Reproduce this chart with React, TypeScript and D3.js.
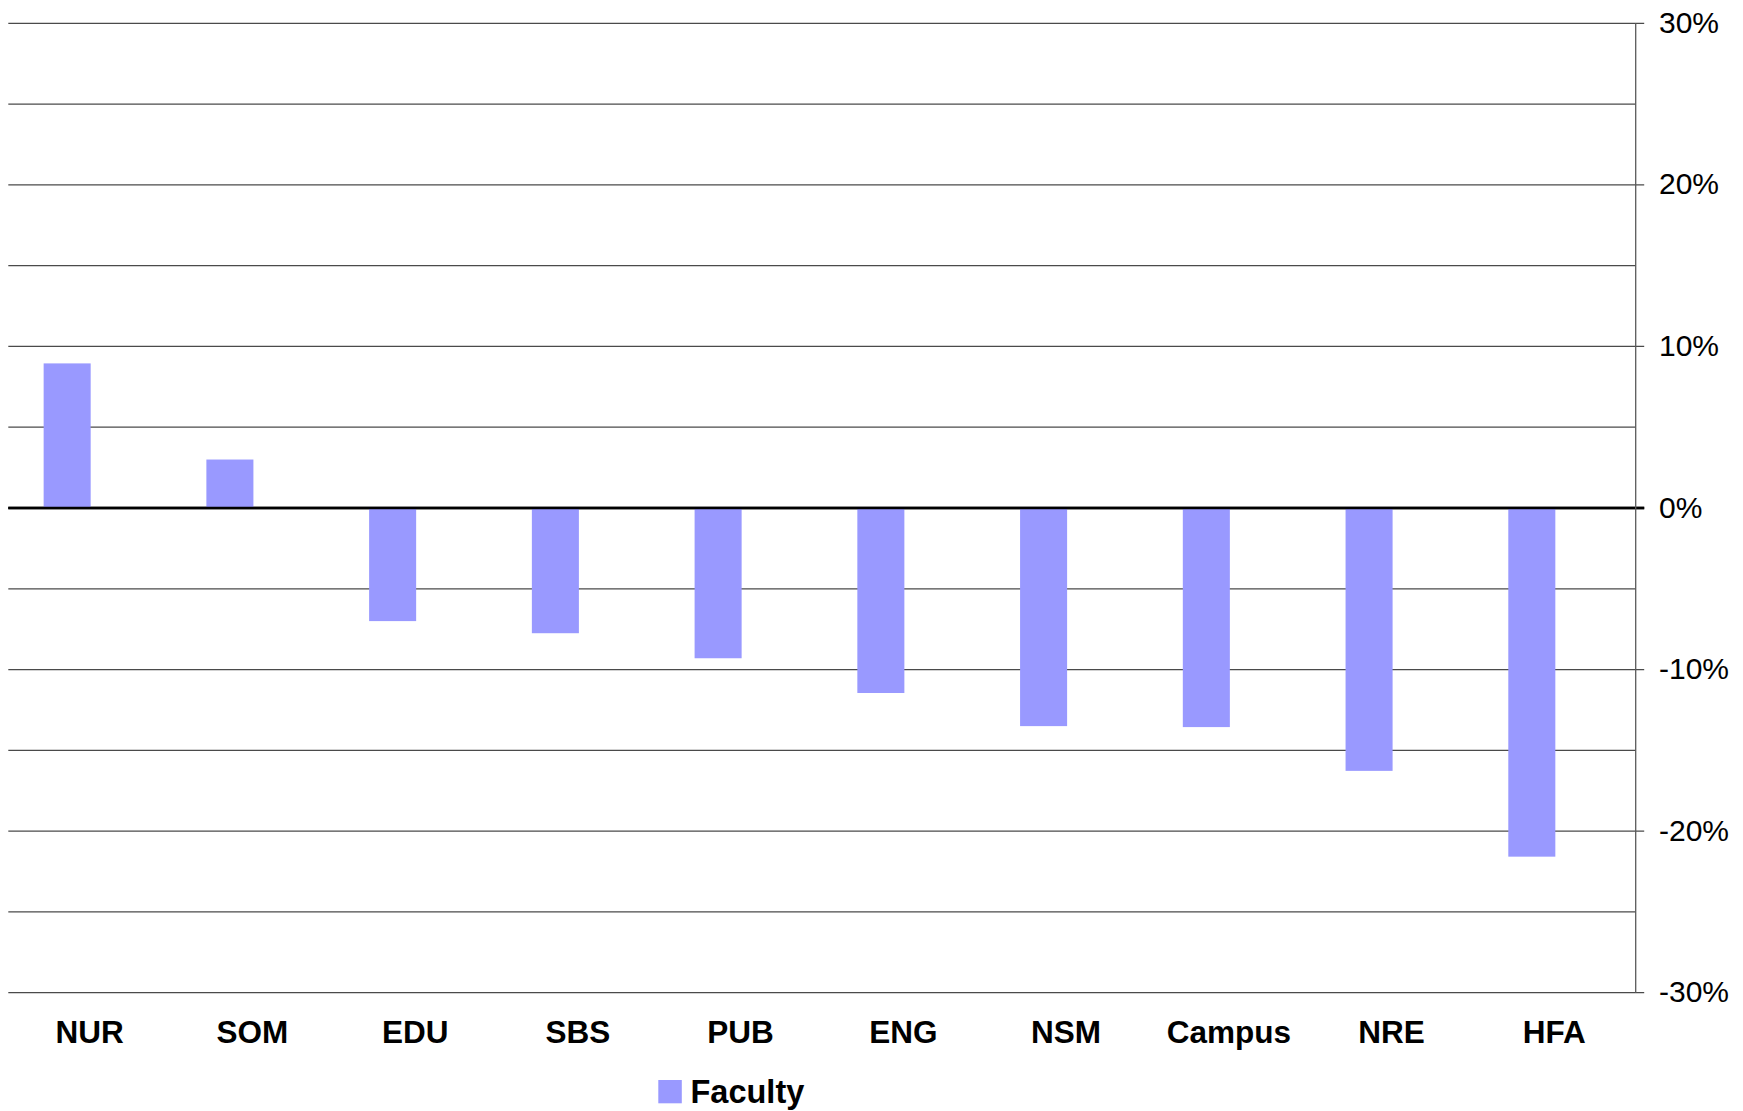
import React from "react";
import * as d3 from "d3";

const categories = ["NUR", "SOM", "EDU", "SBS", "PUB", "ENG", "NSM", "Campus", "NRE", "HFA"];
const facultyValues = [8.95, 3.0, -7.0, -7.75, -9.3, -11.45, -13.5, -13.56, -16.27, -21.58];
const gridTicks = [-30, -25, -20, -15, -10, -5, 0, 5, 10, 15, 20, 25, 30];
const labelTicks = [-30, -20, -10, 0, 10, 20, 30];
const seriesName = "Faculty";

const W = 1743;
const H = 1111;
const left = 8.3;
const right = 1635.7;
const top = 23.3;
const bottom = 992.7;
const barColor = "#9999FF";

export default function App() {
  const x = d3.scaleBand<string>().domain(categories).range([left, right]).padding(0);
  const y = d3.scaleLinear().domain([-30, 30]).range([bottom, top]);
  const bw = x.bandwidth();
  const barW = bw * 0.289;
  const font = "Liberation Sans, Arial, sans-serif";

  return (
    <div style={{ position: "absolute", left: 0, top: 0 }}>
      <svg width={W} height={H} style={{ display: "block", background: "#fff" }}>
        {gridTicks.map((t) => (
          <line
            key={"g" + t}
            x1={left}
            x2={labelTicks.includes(t) ? right + 8.5 : right}
            y1={y(t)}
            y2={y(t)}
            stroke={t === 0 ? "#000" : "#4a4a4a"}
            strokeWidth={t === 0 ? 2.6 : 1.2}
          />
        ))}
        {categories.map((c, i) => {
          const v = facultyValues[i];
          const cx = (x(c) as number) + bw / 2 + 1;
          return (
            <rect
              key={c}
              x={cx - barW}
              y={y(Math.max(0, v))}
              width={barW}
              height={Math.abs(y(v) - y(0))}
              fill={barColor}
            />
          );
        })}
        <line x1={left} x2={right + 8.5} y1={y(0)} y2={y(0)} stroke="#000" strokeWidth={2.6} />
        <line x1={right} x2={right} y1={top} y2={bottom} stroke="#5a5a5a" strokeWidth={1.3} />
        {labelTicks.map((t) => (
          <text
            key={"l" + t}
            x={1659}
            y={y(t) + 9.5}
            fontFamily={font}
            fontSize={30}
            fill="#000"
          >
            {t + "%"}
          </text>
        ))}
        {categories.map((c) => (
          <text
            key={"c" + c}
            x={(x(c) as number) + bw / 2}
            y={1043.3}
            textAnchor="middle"
            fontFamily={font}
            fontWeight="bold"
            fontSize={31.5}
            fill="#000"
          >
            {c}
          </text>
        ))}
        <rect x={658.3} y={1080} width={23.5} height={23.3} fill={barColor} />
        <text x={690.5} y={1103} fontFamily={font} fontWeight="bold" fontSize={32.5} fill="#000">
          {seriesName}
        </text>
      </svg>
    </div>
  );
}
